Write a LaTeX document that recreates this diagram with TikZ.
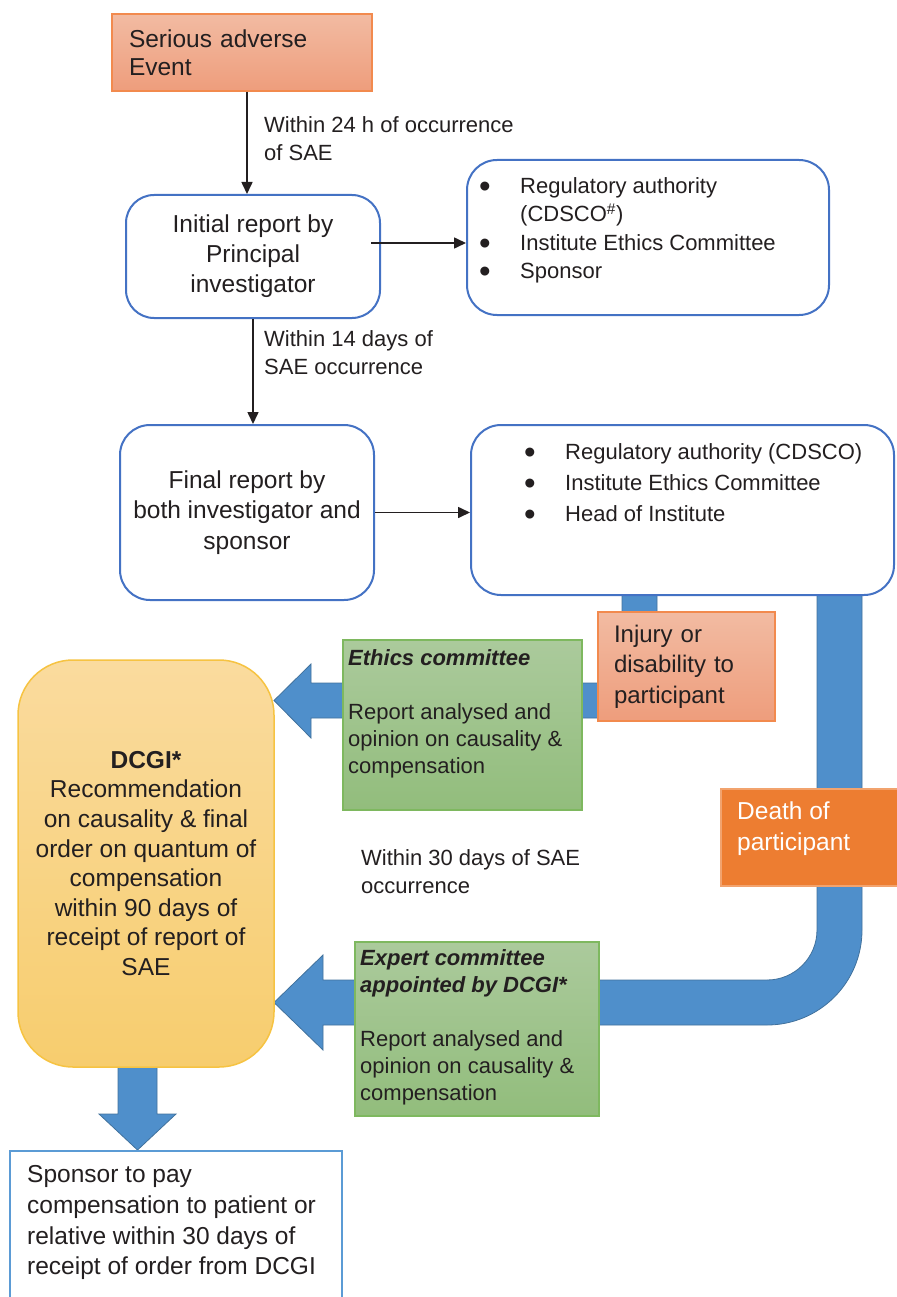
\documentclass[tikz,border=0pt]{standalone}
\usepackage{fontspec}
\usepackage{graphicx}
\setmainfont{Liberation Sans}
\usetikzlibrary{arrows.meta,positioning}

\definecolor{ink}{HTML}{231F20}
\definecolor{boxblue}{HTML}{4472C4}
\definecolor{bandblue}{HTML}{4F8FCB}
\definecolor{bandline}{HTML}{41719C}
\definecolor{salmontop}{HTML}{F2BBA2}
\definecolor{salmonbot}{HTML}{EE9D7C}
\definecolor{salmonline}{HTML}{F28A4E}
\definecolor{greentop}{HTML}{ABCA9C}
\definecolor{greenbot}{HTML}{92BD7C}
\definecolor{greenline}{HTML}{7EB85F}
\definecolor{goldtop}{HTML}{FADB9E}
\definecolor{goldbot}{HTML}{F7CD6E}
\definecolor{goldline}{HTML}{F6C342}
\definecolor{deathfill}{HTML}{ED7D31}
\definecolor{deathline}{HTML}{F2A36E}
\definecolor{paybox}{HTML}{5B9BD5}

\newcommand\bigtxt{\fontsize{24.5}{30}\selectfont}
\newcommand\smalltxt{\fontsize{22}{28}\selectfont}
\newcommand\bitem[1]{\makebox[39pt][l]{\hspace*{-2pt}\smash{\raisebox{-4pt}{\scalebox{1.5}{\textbullet}}}}#1}

\tikzset{
  arr/.style={draw=ink, line width=1.6pt, -{Triangle[length=12pt,width=11pt]}},
  bluebox/.style={draw=boxblue, line width=2pt, fill=white, rounded corners=28pt},
  salmonbox/.style={draw=salmonline, line width=1.5pt, top color=salmontop, bottom color=salmonbot},
  greenbox/.style={draw=greenline, line width=1.2pt, top color=greentop, bottom color=greenbot},
  band/.style={fill=bandblue, draw=bandline, line width=0.8pt},
  freetext/.style={inner sep=0pt, anchor=north west, align=left},
}

\begin{document}
\begin{tikzpicture}[x=1pt, y=-1pt, text=ink]
    \useasboundingbox (0,0) rectangle (896,1297);

    % block arrows, behind the boxes
    \draw[band] (622,590) -- (657,590) -- (657,718) -- (311,718) -- (311,738)
        -- (274,700.5) -- (311,664) -- (311,683) -- (622,683) -- cycle;
    \draw[band] (817,590) -- (862,590) -- (862,930)
        .. controls (862,982.5) and (819.5,1025) .. (767,1025)
        -- (323,1025) -- (323,1050) -- (274,1002.5) -- (323,955) -- (323,980)
        -- (767,980) .. controls (794.6,980) and (817,957.6) .. (817,930) -- cycle;
    \draw[band] (118,1060) -- (157,1060) -- (157,1114) -- (176,1114)
        -- (137.5,1150) -- (99,1114) -- (118,1114) -- cycle;

    % top part
    \node[salmonbox, minimum width=260pt, minimum height=77pt, text width=226pt,
        inner xsep=17pt, align=left, font=\fontsize{24.5}{28}\selectfont]
        (sae) at (242,52.5) {Serious adverse\\Event};

    \node[bluebox, minimum width=254pt, minimum height=123pt, align=center, font=\bigtxt]
        (init) at (253,256.5) {Initial report by\\Principal\\investigator};

    \node[bluebox, rounded corners=30pt, minimum width=362pt, minimum height=155pt]
        (rep1) at (648,237.5) {};
    \node[freetext, font=\fontsize{22}{28.3}\selectfont] (rep1txt) at (481,177.5)
        {\bitem{Regulatory authority}\\\hspace*{39pt}(CDSCO\textsuperscript{\#})\\
         \bitem{Institute Ethics Committee}\\\bitem{Sponsor}};

    \node[bluebox, rounded corners=30pt, minimum width=254pt, minimum height=175pt,
        align=center, font=\fontsize{24.5}{30.5}\selectfont]
        (final) at (247,512.5) {Final report by\\both investigator and\\sponsor};

    \node[bluebox, rounded corners=30pt, minimum width=423pt, minimum height=170pt]
        (rep2) at (682.5,510) {};
    \node[freetext, font=\fontsize{22}{31}\selectfont] (rep2txt) at (526,443.5)
        {\bitem{Regulatory authority (CDSCO)}\\\bitem{Institute Ethics Committee}\\
         \bitem{Head of Institute}};

    \node[freetext, font=\smalltxt] (lbl24) at (264,116.5) {Within 24 h of occurrence\\of SAE};
    \node[freetext, font=\smalltxt] (lbl14) at (264,330.5) {Within 14 days of\\SAE occurrence};

    % outcome boxes
    \node[salmonbox, minimum width=177pt, minimum height=109pt, text width=145pt,
        inner xsep=16pt, align=left, font=\fontsize{24}{30.5}\selectfont]
        (injury) at (686.5,666.5) {Injury or\\disability to\\participant};

    \node[draw=deathline, line width=1.2pt, fill=deathfill, minimum width=177pt,
        minimum height=97pt] (death) at (809.5,837.5) {};
    \node[freetext, text=white, font=\fontsize{24.5}{31}\selectfont] (deathtxt)
        at (737,801.5) {Death of\\participant};

    % committees
    \node[greenbox, minimum width=239pt, minimum height=170pt] (ethics) at (462.5,725) {};
    \node[freetext, font=\fontsize{22}{27}\selectfont] (ethicstxt) at (348,649.5)
        {\textbf{\textit{Ethics committee}}\\[27pt]Report analysed and\\
         opinion on causality \&\\compensation};

    \node[greenbox, minimum width=244pt, minimum height=174pt] (expert) at (477,1029) {};
    \node[freetext, font=\fontsize{22}{27}\selectfont] (experttxt) at (360,949.5)
        {\textbf{\textit{Expert committee}}\\\textbf{\textit{appointed by DCGI*}}\\[27pt]
         Report analysed and\\opinion on causality \&\\compensation};

    \node[freetext, font=\smalltxt] (lbl30) at (361,849.5) {Within 30 days of SAE\\occurrence};

    % DCGI and payment
    \node[draw=goldline, line width=1.5pt, top color=goldtop, bottom color=goldbot,
        rounded corners=55pt, minimum width=256pt, minimum height=407pt, align=center,
        font=\fontsize{24.5}{29.6}\selectfont] (dcgi) at (146,863.5)
        {\textbf{DCGI*}\\Recommendation\\on causality \& final\\order on quantum of\\
         compensation\\within 90 days of\\receipt of report of\\SAE};

    \node[draw=paybox, line width=1.5pt, minimum width=332pt, minimum height=160pt,
        anchor=north west] (pay) at (9,1150) {};
    \node[freetext, font=\fontsize{24.5}{30.7}\selectfont] (paytxt) at (27,1165.5)
        {Sponsor to pay\\compensation to patient or\\relative within 30 days of\\
         receipt of order from DCGI};

    % thin arrows
    \draw[arr] ([xshift=5pt]sae.south) -- ([xshift=5pt]sae.south |- init.north);
    \draw[arr] ([xshift=-10pt,yshift=13.5pt]init.east) -- ([yshift=13.5pt]init.east -| rep1.west);
    \draw[arr] (init.south) -- (init.south |- final.north);
    \draw[arr] (final.east) -- (final.east -| rep2.west);
\end{tikzpicture}
\end{document}
